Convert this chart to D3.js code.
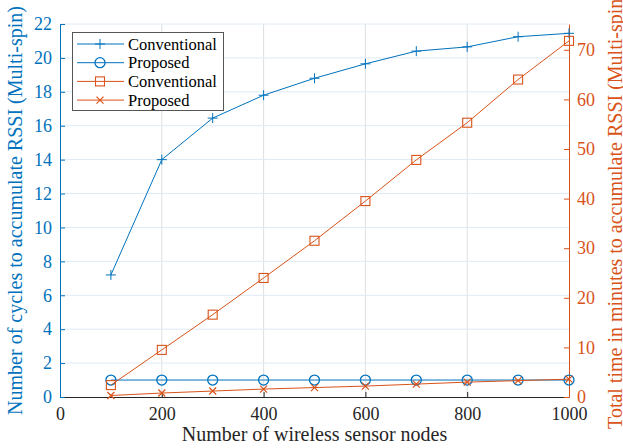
<!DOCTYPE html>
<html>
<head>
<meta charset="utf-8">
<script src="https://cdn.jsdelivr.net/npm/d3@7"></script>
<style>
  html, body { margin: 0; padding: 0; background: #fff; }
  svg text { font-family: "Liberation Serif", "Times New Roman", Times, serif; }
</style>
</head>
<body>
<div id="chart"></div>
<script>
(() => {

// data
const nodes = [100, 200, 300, 400, 500, 600, 700, 800, 900, 1000];
const cyclesConventional = [7.2, 14.0, 16.45, 17.8, 18.8, 19.65, 20.4, 20.65, 21.25, 21.45];
const cyclesProposed = [1, 1, 1, 1, 1, 1, 1, 1, 1, 1];
const timeConventional = [2.4, 9.5, 16.6, 24.0, 31.5, 39.5, 47.8, 55.3, 64.0, 71.8];
const timeProposed = [0.3, 0.8, 1.2, 1.6, 1.9, 2.2, 2.6, 3.0, 3.3, 3.6];
const xTicks = [0, 200, 400, 600, 800, 1000];
const leftTicks = [0, 2, 4, 6, 8, 10, 12, 14, 16, 18, 20, 22];
const rightTicks = [0, 10, 20, 30, 40, 50, 60, 70];
const legendLabels = ["Conventional", "Proposed", "Conventional", "Proposed"];

const width = 623, height = 448;
const blue = "#0072BD", orange = "#D95319";
const serif = "'Liberation Serif', 'Times New Roman', Times, serif";

const svg = d3.select("#chart")
  .append("svg")
  .attr("width", width)
  .attr("height", height);

// scales
const x = d3.scaleLinear().domain([0, 1000]).range([60, 569]);
const yL = d3.scaleLinear().domain([0, 22]).range([397, 24]);
const yR = d3.scaleLinear().domain([0, 75.2]).range([397, 24]);

// grid
svg.append("g")
  .selectAll("line")
  .data(xTicks.slice(1, -1))
  .enter()
  .append("line")
  .attr("x1", d => x(d)).attr("x2", d => x(d))
  .attr("y1", 24).attr("y2", 397)
  .attr("stroke", "#dcdfe3")
  .attr("stroke-width", 1);

svg.append("g")
  .selectAll("line")
  .data(leftTicks.slice(1))
  .enter()
  .append("line")
  .attr("x1", 60).attr("x2", 569)
  .attr("y1", d => yL(d)).attr("y2", d => yL(d))
  .attr("stroke", "#dfeaf5")
  .attr("stroke-width", 1);

// axes
function styleAxis(g, color) {
  g.attr("font-family", serif).attr("font-size", 18);
  g.select(".domain").attr("stroke", color);
  g.selectAll(".tick line").attr("stroke", color);
  g.selectAll("text").attr("fill", color).style("font-family", serif);
}

const xAxis = svg.append("g")
  .attr("transform", "translate(0,397)")
  .call(d3.axisBottom(x).tickValues(xTicks).tickFormat(d3.format("d"))
    .tickSize(-5).tickPadding(10).tickSizeOuter(0));
styleAxis(xAxis, "#262626");

const lAxis = svg.append("g")
  .attr("transform", "translate(60,0)")
  .call(d3.axisLeft(yL).tickValues(leftTicks).tickSize(-5).tickPadding(8).tickSizeOuter(0));
styleAxis(lAxis, blue);

const rAxis = svg.append("g")
  .attr("transform", "translate(569,0)")
  .call(d3.axisRight(yR).tickValues(rightTicks).tickSize(-5).tickPadding(8).tickSizeOuter(0));
styleAxis(rAxis, orange);

// axis titles
svg.append("text")
  .attr("x", x(500)).attr("y", 441)
  .attr("text-anchor", "middle")
  .attr("font-size", 20)
  .attr("fill", "#262626")
  .text("Number of wireless sensor nodes");

svg.append("text")
  .attr("transform", `translate(22,${(24 + 397) / 2}) rotate(-90)`)
  .attr("text-anchor", "middle")
  .attr("font-size", 20)
  .attr("fill", blue)
  .text("Number of cycles to accumulate RSSI (Multi-spin)");

svg.append("text")
  .attr("transform", `translate(622,${(24 + 397) / 2}) rotate(-90)`)
  .attr("text-anchor", "middle")
  .attr("font-size", 20)
  .attr("fill", orange)
  .text("Total time in minutes to accumulate RSSI (Multi-spin)");

// markers
function drawMarker(g, type, color) {
  if (type === "plus") {
    g.append("path").attr("d", "M-5,0H5M0,-5V5").attr("stroke", color).attr("fill", "none");
  } else if (type === "circle") {
    g.append("circle").attr("r", 5).attr("stroke", color).attr("fill", "none").attr("stroke-width", 1.3);
  } else if (type === "square") {
    g.append("rect").attr("x", -4.5).attr("y", -4.5).attr("width", 9).attr("height", 9)
      .attr("stroke", color).attr("fill", "none").attr("stroke-width", 1.1);
  } else if (type === "cross") {
    g.append("path").attr("d", "M-3.5,-3.5L3.5,3.5M-3.5,3.5L3.5,-3.5").attr("stroke", color)
      .attr("fill", "none").attr("stroke-width", 1.2);
  }
}

const series = [
  { values: cyclesConventional, y: yL, color: blue, marker: "plus" },
  { values: cyclesProposed, y: yL, color: blue, marker: "circle" },
  { values: timeConventional, y: yR, color: orange, marker: "square" },
  { values: timeProposed, y: yR, color: orange, marker: "cross" }
];

series.forEach(s => {
  const line = d3.line()
    .x((d, i) => x(nodes[i]))
    .y(d => s.y(d));
  svg.append("path")
    .datum(s.values)
    .attr("d", line)
    .attr("fill", "none")
    .attr("stroke", s.color)
    .attr("stroke-width", 1);
  s.values.forEach((v, i) => {
    const g = svg.append("g").attr("transform", `translate(${x(nodes[i])},${s.y(v)})`);
    drawMarker(g, s.marker, s.color);
  });
});

// legend
const legend = svg.append("g");
legend.append("rect")
  .attr("x", 72.5).attr("y", 32.5)
  .attr("width", 151).attr("height", 78)
  .attr("fill", "#fff")
  .attr("stroke", "#555")
  .attr("stroke-width", 1);

series.forEach((s, i) => {
  const yy = 44 + i * 18.7;
  legend.append("line")
    .attr("x1", 77).attr("x2", 124)
    .attr("y1", yy).attr("y2", yy)
    .attr("stroke", s.color).attr("stroke-width", 1);
  const g = legend.append("g").attr("transform", `translate(100,${yy})`);
  drawMarker(g, s.marker, s.color);
  legend.append("text")
    .attr("x", 128).attr("y", yy + 5.5)
    .attr("font-size", 16.5)
    .attr("fill", "#000")
    .text(legendLabels[i]);
});

})();
</script>
</body>
</html>
